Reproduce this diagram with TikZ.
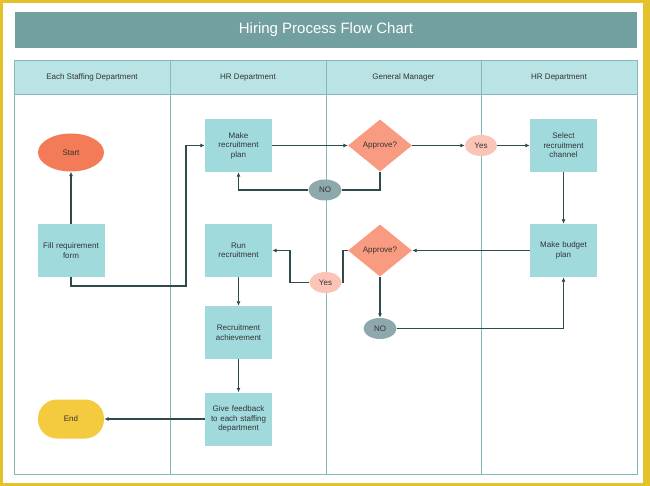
\documentclass[tikz,border=0pt]{standalone}
\usepackage{fontspec}
\setmainfont{Liberation Sans}
\usetikzlibrary{shapes.geometric,arrows.meta}
\definecolor{frameY}{HTML}{E3C22C}
\definecolor{titleC}{HTML}{72A0A1}
\definecolor{headC}{HTML}{B9E3E5}
\definecolor{laneC}{HTML}{86B7BA}
\definecolor{boxC}{HTML}{A0DADD}
\definecolor{startC}{HTML}{F47B57}
\definecolor{diaC}{HTML}{F99B80}
\definecolor{yesC}{HTML}{FBC4B6}
\definecolor{noC}{HTML}{8EA9AD}
\definecolor{endC}{HTML}{F4CB3F}
\definecolor{lineC}{HTML}{2F4A4A}
\definecolor{txtC}{HTML}{333333}
\tikzset{
  every node/.style={font=\fontsize{8}{9.5}\selectfont, text=txtC, inner sep=0pt, align=center},
  procbox/.style={rectangle, fill=boxC, minimum width=67pt, minimum height=53pt, text width=62pt},
  startnode/.style={ellipse, fill=startC, minimum width=66pt, minimum height=38pt},
  endnode/.style={rectangle, rounded corners=19pt, fill=endC, minimum width=66pt, minimum height=39pt},
  decision/.style={diamond, fill=diaC, minimum width=64pt, minimum height=52pt, aspect=1.23},
  yesnode/.style={ellipse, fill=yesC, minimum width=32pt, minimum height=21pt},
  nonode/.style={ellipse, fill=noC, minimum width=33pt, minimum height=21pt},
  flow/.style={draw=lineC, line width=1.1pt, -{Latex[length=4.5pt,width=4pt]}},
  lanehead/.style={font=\fontsize{8}{9.5}\selectfont}
}
\begin{document}
\begin{tikzpicture}[x=1pt,y=-1pt]
\useasboundingbox (0,0) rectangle (650,486);
% frame
\fill[frameY] (0,0) rectangle (650,486);
\fill[white] (3,3) rectangle (643,483);
% title
\fill[titleC] (15,12) rectangle (637,48);
\node[text=white, font=\fontsize{15}{18}\selectfont] (title) at (326,30) {Hiring Process Flow Chart};
% lanes
\fill[headC] (14,60) rectangle (637,94);
\draw[laneC, line width=0.8pt] (14,60) rectangle (637,474);
\draw[laneC, line width=0.8pt] (14,94) -- (637,94);
\foreach \x in {170,326,481} \draw[laneC, line width=0.8pt] (\x,60) -- (\x,474);
\node[lanehead] (h1) at (92,77.5) {Each Staffing Department};
\node[lanehead] (h2) at (248,77.5) {HR Department};
\node[lanehead] (h3) at (403.5,77.5) {General Manager};
\node[lanehead] (h4) at (559,77.5) {HR Department};
% nodes
\node[startnode] (start) at (71,152.5) {Start};
\node[procbox] (plan) at (238.5,145.5) {Make\\recruitment\\plan};
\node[decision] (ap1) at (380,145.5) {Approve?};
\node[yesnode] (yes1) at (481,145.5) {Yes};
\node[procbox] (select) at (563.5,145.5) {Select\\recruitment\\channel};
\node[nonode] (no1) at (325,190) {NO};
\node[procbox] (fill) at (71,250.5) {Fill requirement\\form};
\node[procbox] (run) at (238.5,250.5) {Run\\recruitment};
\node[decision] (ap2) at (380,250.5) {Approve?};
\node[procbox] (budget) at (563.5,250.5) {Make budget\\plan};
\node[yesnode] (yes2) at (325.5,282.5) {Yes};
\node[nonode] (no2) at (380,328.5) {NO};
\node[procbox] (ach) at (238.5,332.5) {Recruitment\\achievement};
\node[procbox] (fb) at (238.5,419) {Give feedback\\to each staffing\\department};
\node[endnode] (end) at (71,419) {End};
% connectors
\draw[flow] (fill.north) -- (start.south);
\draw[flow] (fill.south) |- (186,286) |- (plan.west);
\draw[flow] (plan.east) -- (ap1.west);
\draw[flow] (ap1.east) -- (yes1.west);
\draw[flow] (yes1.east) -- (select.west);
\draw[flow, -] (ap1.south) |- (no1.east);
\draw[flow] (no1.west) -| (plan.south);
\draw[flow] (select.south) -- (budget.north);
\draw[flow] (budget.west) -- (ap2.east);
\draw[flow, -] (ap2.west) -- (343,250.5) |- (yes2.east);
\draw[flow] (yes2.west) -| (290,250.5) -- (run.east);
\draw[flow] (ap2.south) -- (no2.north);
\draw[flow] (no2.east) -| (budget.south);
\draw[flow] (run.south) -- (ach.north);
\draw[flow] (ach.south) -- (fb.north);
\draw[flow] (fb.west) -- (end.east);
\end{tikzpicture}
\end{document}
